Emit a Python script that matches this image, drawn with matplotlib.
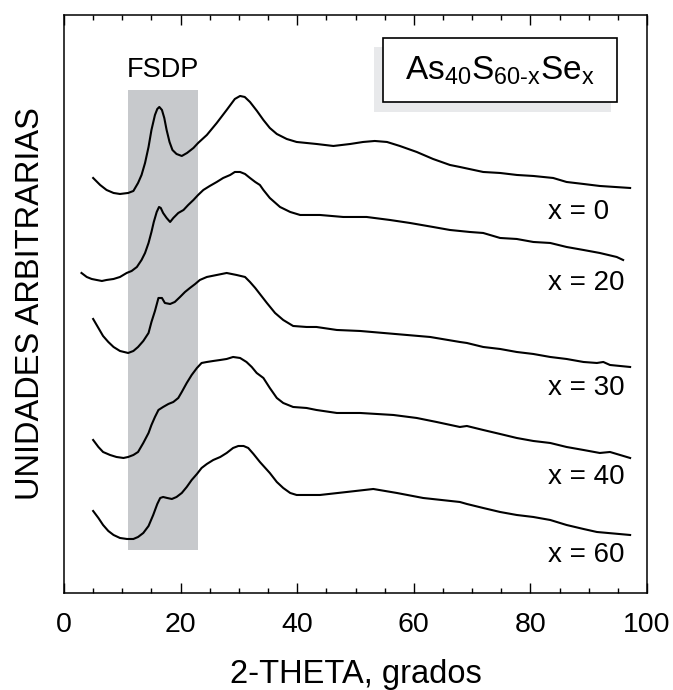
import matplotlib
matplotlib.use("Agg")
import matplotlib.pyplot as plt
from matplotlib.patches import Rectangle

plt.rcParams['font.family'] = ['Liberation Sans', 'DejaVu Sans']
plt.rcParams['mathtext.fontset'] = 'custom'
plt.rcParams['mathtext.rm'] = 'Liberation Sans'
plt.rcParams['mathtext.it'] = 'Liberation Sans'

# Diffraction patterns (2-theta in degrees, intensity in arbitrary units)
theta_x0 = [5.0, 6.2, 7.3, 8.5, 9.6, 11.0, 11.9, 12.7, 13.3, 13.9, 14.5, 15.0, 15.6, 16.0, 16.35,
            16.8, 17.2, 17.6, 18.1, 18.6, 19.3, 20.2, 21.1, 22.2, 23.0, 24.5, 26.2, 27.9, 29.3,
            30.2, 31.0, 31.9, 33.1, 34.2, 35.3, 36.5, 38.2, 39.9, 43.3, 46.2, 49.1, 51.3, 53.3,
            55.4, 57.6, 60.5, 63.3, 66.2, 67.9, 71.9, 74.8, 77.7, 80.5, 82.2, 83.9, 86.2, 89.1,
            91.9, 97.1]
int_x0 = [415, 408, 403, 400, 399, 400, 402, 410, 418, 430, 446, 463, 478, 484, 486,
          483, 475, 463, 451, 443, 439, 437, 440, 445, 450, 458, 470, 483, 494,
          497, 496, 491, 482, 473, 465, 459, 454, 451, 449, 447, 449, 451, 452,
          451, 447, 441, 434, 428, 426, 421, 420, 418, 417, 416, 415, 411, 409,
          407, 405]

theta_x20 = [3.0, 3.9, 4.75, 5.6, 6.5, 7.3, 8.5, 9.6, 10.75, 11.6, 12.5, 13.3, 13.9, 14.5,
             15.0, 15.4, 15.9, 16.3, 16.6, 17.0, 17.6, 18.2, 18.75, 19.6, 20.5, 21.3, 22.2,
             23.0, 23.9, 25.0, 26.2, 27.3, 28.5, 29.3, 30.2, 31.05, 31.9, 32.8, 33.6, 34.2,
             35.3, 37.05, 38.8, 40.5, 43.9, 47.9, 51.9, 55.9, 59.35, 63.3, 66.2, 69.6, 71.9,
             74.8, 77.65, 80.5, 83.4, 86.2, 89.1, 91.9, 94.8, 95.9]
int_x20 = [320, 316, 314, 313, 312, 313, 314, 316, 320, 322, 326, 333, 340, 350,
           361, 371, 381, 386, 385, 380, 375, 371, 375, 380, 383, 388, 393,
           398, 403, 407, 411, 415, 418, 421, 421, 419, 415, 411, 408, 403,
           395, 386, 381, 378, 378, 376, 376, 373, 370, 366, 363, 361, 360,
           355, 354, 351, 350, 346, 343, 340, 336, 333]

theta_x30 = [5.0, 5.9, 6.7, 7.6, 8.5, 9.6, 11.0, 11.9, 12.7, 13.6, 14.5, 15.0, 15.6, 16.2,
             16.8, 17.3, 18.2, 19.0, 19.9, 20.75, 21.6, 22.5, 23.3, 24.5, 26.2, 27.9, 29.6,
             31.05, 31.9, 32.8, 34.8, 36.2, 37.6, 39.3, 41.6, 43.3, 46.8, 50.8, 54.8, 58.8,
             62.8, 67.9, 69.1, 71.9, 74.8, 77.65, 80.5, 83.4, 86.2, 89.1, 91.4, 92.5, 93.65,
             97.1]
int_x30 = [274, 265, 257, 251, 246, 242, 240, 242, 246, 252, 260, 271, 282, 295,
           295, 290, 289, 291, 296, 301, 305, 309, 313, 316, 318, 320, 318,
           316, 311, 305, 290, 280, 273, 267, 266, 266, 263, 262, 260, 258,
           256, 251, 250, 246, 244, 241, 239, 236, 234, 231, 230, 231, 228,
           226]

theta_x40 = [5.0, 5.9, 6.7, 7.9, 9.0, 10.2, 11.0, 11.9, 12.7, 13.6, 14.5, 15.0, 15.6, 16.2,
             17.0, 17.9, 18.75, 19.6, 20.2, 21.05, 21.9, 22.8, 23.6, 24.5, 25.6, 26.8, 27.9,
             29.0, 30.2, 31.3, 32.2, 33.05, 34.2, 35.3, 36.5, 37.6, 39.3, 41.6, 43.3, 46.8,
             50.8, 56.5, 60.5, 63.9, 67.9, 69.1, 71.9, 74.8, 77.65, 80.5, 83.4, 86.2, 89.1,
             91.9, 93.65, 97.1]
int_x40 = [153, 146, 141, 138, 136, 135, 136, 138, 141, 150, 160, 168, 176, 183,
           186, 189, 191, 195, 201, 210, 218, 225, 230, 231, 232, 233, 234,
           236, 235, 231, 226, 220, 215, 205, 195, 190, 186, 185, 183, 180,
           180, 178, 175, 171, 166, 167, 163, 159, 155, 152, 150, 146, 143,
           140, 141, 135]

theta_x60 = [5.0, 5.9, 6.7, 7.6, 8.5, 9.6, 10.8, 11.9, 12.7, 13.6, 14.5, 15.3, 16.0, 16.5,
             17.0, 17.7, 18.5, 19.3, 20.2, 21.05, 21.9, 22.8, 23.6, 24.5, 25.6, 26.8, 27.9,
             29.0, 29.9, 30.8, 31.6, 32.5, 33.6, 35.3, 36.5, 37.6, 38.8, 39.9, 43.9, 48.5,
             53.05, 57.1, 61.6, 67.9, 69.1, 71.9, 74.8, 77.65, 80.5, 83.4, 86.2, 89.1, 91.4,
             97.1]
int_x60 = [82, 75, 68, 62, 58, 55, 54, 54, 56, 60, 67, 78, 89, 95,
           96, 95, 94, 96, 100, 106, 113, 119, 125, 129, 133, 136, 140,
           145, 147, 147, 145, 139, 131, 120, 111, 105, 100, 98, 98, 101,
           104, 100, 95, 91, 89, 85, 81, 78, 76, 73, 68, 64, 61,
           58]

curves = [(theta_x0, int_x0), (theta_x20, int_x20), (theta_x30, int_x30),
          (theta_x40, int_x40), (theta_x60, int_x60)]
labels = ['x = 0', 'x = 20', 'x = 30', 'x = 40', 'x = 60']
label_y = [0.659, 0.536, 0.354, 0.201, 0.066]   # axes fraction

fsdp_range = (11.0, 23.0)

fig = plt.figure(figsize=(6.73, 6.90), dpi=100)
ax = fig.add_axes([0.0951, 0.1406, 0.8663, 0.8377])

# FSDP band
ax.add_patch(Rectangle((fsdp_range[0], 0.0744), fsdp_range[1] - fsdp_range[0], 0.870 - 0.0744,
                       transform=ax.get_xaxis_transform(), facecolor='#c7c9cc',
                       edgecolor='none', zorder=1))
ax.text(sum(fsdp_range) / 2, 0.905, 'FSDP', transform=ax.get_xaxis_transform(),
        ha='center', va='center', fontsize=19.5)

for (tx, iy) in curves:
    ax.plot(tx, iy, color='black', lw=1.5, zorder=3)

for lab, yy in zip(labels, label_y):
    ax.text(83.0, yy, lab, transform=ax.get_xaxis_transform(), ha='left', va='center',
            fontsize=20)

# composition box with shadow
ax.add_patch(Rectangle((0.5317, 0.8322), 0.9383 - 0.5317, 0.9446 - 0.8322,
                       transform=ax.transAxes, facecolor='#e8e9eb', edgecolor='none', zorder=4))
ax.add_patch(Rectangle((0.547, 0.8495), 0.9485 - 0.547, 0.960 - 0.8495,
                       transform=ax.transAxes, facecolor='white', edgecolor='black',
                       lw=1.2, zorder=5))
ax.text(0.748, 0.903, r'As$_{40}$S$_{60\text{-}x}$Se$_{x}$', transform=ax.transAxes,
        ha='center', va='center', fontsize=24, zorder=6)

ax.set_xlim(0, 100)
ax.set_ylim(0, 578)
ax.set_xticks(range(0, 101, 20))
ax.set_xticks(range(0, 101, 5), minor=True)
ax.set_yticks([])
ax.tick_params(axis='x', which='both', direction='in', top=True, labelsize=20.5, pad=14)
ax.tick_params(axis='x', which='major', length=7, width=1)
ax.tick_params(axis='x', which='minor', length=3.5, width=1)
for sp in ax.spines.values():
    sp.set_linewidth(1.1)

ax.set_xlabel('2-THETA, grados', fontsize=23.5, labelpad=15)
ax.set_ylabel('UNIDADES ARBITRARIAS', fontsize=23.5, labelpad=13)

fig.savefig('out.png', dpi=100)
